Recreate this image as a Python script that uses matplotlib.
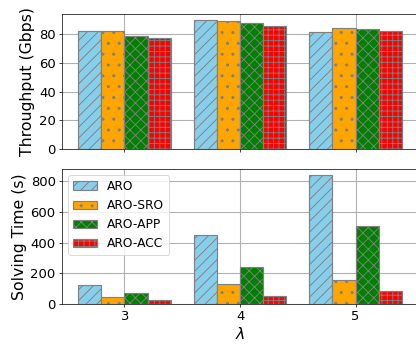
import matplotlib
matplotlib.use("Agg")
import matplotlib.pyplot as plt
import numpy as np

DPI = 65
plt.rcParams.update({
    "font.family": "DejaVu Sans",
    "font.size": 14.5,
    "hatch.color": "gray",
    "hatch.linewidth": 1.0,
})

lambdas = [3, 4, 5]
methods = ["ARO", "ARO-SRO", "ARO-APP", "ARO-ACC"]
throughput = {
    "ARO": [82.3, 89.5, 81.4],
    "ARO-SRO": [81.9, 89.1, 84.2],
    "ARO-APP": [78.8, 87.9, 83.7],
    "ARO-ACC": [77.4, 85.3, 82.3],
}
solve_time = {
    "ARO": [124, 453, 839],
    "ARO-SRO": [46, 133, 159],
    "ARO-APP": [74, 244, 512],
    "ARO-ACC": [28, 50, 83],
}
colors = ["skyblue", "orange", "green", "red"]
hatches = ["//", ".", "xx", "++"]

W, H = 416, 345
fig = plt.figure(figsize=(W / DPI, H / DPI), dpi=DPI)
left, right = 62 / W, 418 / W
ax1 = fig.add_axes([left, 1 - 149 / H, right - left, 135 / H])
ax2 = fig.add_axes([left, 1 - 304 / H, right - left, 135 / H], sharex=ax1)

x = np.array(lambdas, dtype=float)
bw = 0.2
for i, m in enumerate(methods):
    off = (i - 1.5) * bw
    ax1.bar(x + off, throughput[m], bw, color=colors[i], hatch=hatches[i],
            edgecolor="gray", linewidth=1.3, label=m)
    ax2.bar(x + off, solve_time[m], bw, color=colors[i], hatch=hatches[i],
            edgecolor="gray", linewidth=1.3, label=m)

for ax in (ax1, ax2):
    ax.grid(True, color="#b0b0b0", linewidth=1.2)
    ax.set_axisbelow(True)
    ax.tick_params(labelsize=14.5)

ax1.set_ylabel("Throughput (Gbps)", fontsize=17.5)
ax1.set_yticks([0, 20, 40, 60, 80])
plt.setp(ax1.get_xticklabels(), visible=False)

ax2.set_ylabel("Solving Time (s)", fontsize=17.5)
ax2.set_yticks([0, 200, 400, 600, 800])
ax2.set_xticks(lambdas)
ax2.set_xlabel(r"$\lambda$", fontsize=17.5, labelpad=3)
ax2.legend(loc="upper left", fontsize=13.5)

fig.savefig("out.png", dpi=DPI)
